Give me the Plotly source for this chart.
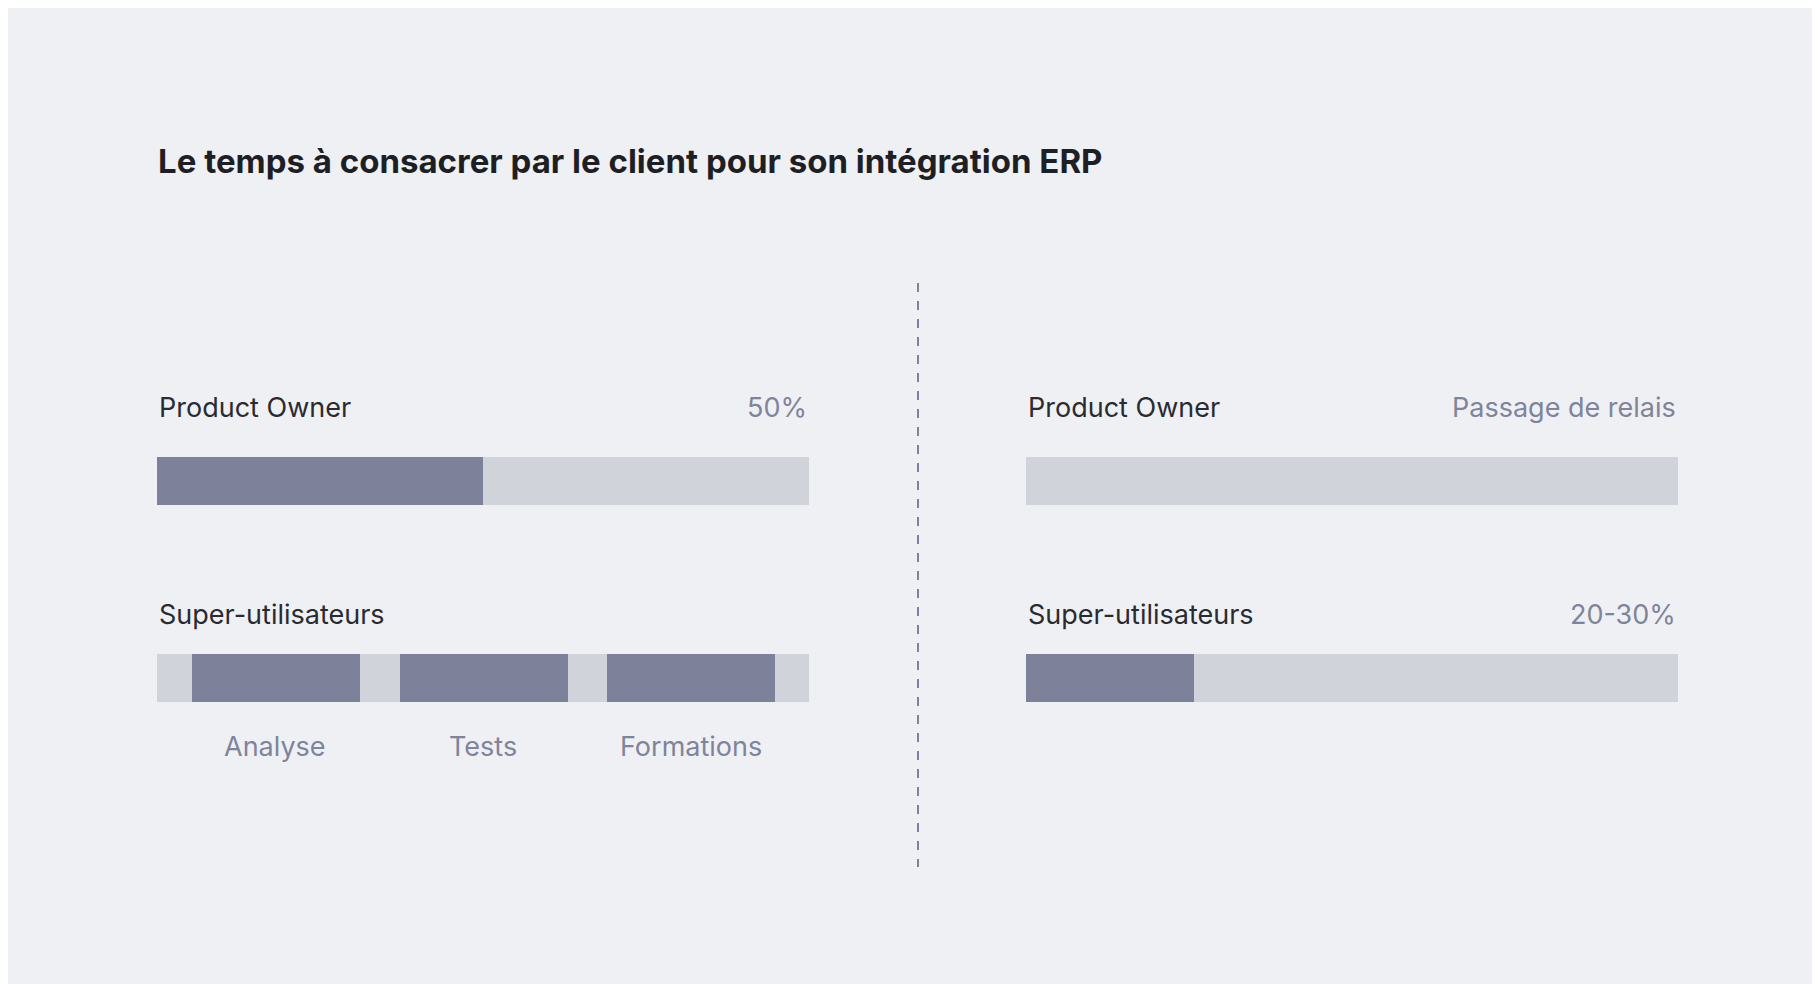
import plotly.graph_objects as go

# data
title = "Le temps à consacrer par le client pour son intégration ERP"
left_po_share = 50
left_su_segments = [(5.3, 31.1), (37.2, 63.0), (69.0, 94.8)]
left_su_labels = ["Analyse", "Tests", "Formations"]
right_po_share = 0
right_su_share = 25.8
right_po_note = "Passage de relais"
right_su_note = "20-30%"
roles = ["Product Owner", "Super-utilisateurs"]

DARK = "#7d8199"
LIGHT = "#d0d3da"
BG = "#eff0f4"
W, H = 1820, 984
PO_Y, SU_Y, BAR_W = 473, 670, 48
FONT = "Inter"

fig = go.Figure()


def bar(xaxis, start, length, y, color):
    fig.add_trace(go.Bar(
        x=[length], base=[start], y=[y], width=[BAR_W], orientation="h",
        marker=dict(color=color, line=dict(width=0)),
        xaxis=xaxis, yaxis="y", hoverinfo="skip", showlegend=False,
    ))


for ax in ["x", "x2"]:
    bar(ax, 0, 100, PO_Y, LIGHT)
    bar(ax, 0, 100, SU_Y, LIGHT)

bar("x", 0, left_po_share, PO_Y, DARK)
for s, e in left_su_segments:
    bar("x", s, e - s, SU_Y, DARK)
if right_po_share:
    bar("x2", 0, right_po_share, PO_Y, DARK)
bar("x2", 0, right_su_share, SU_Y, DARK)

ann = []


def label(xref, x, y, text, anchor, color, size=27):
    ann.append(dict(xref=xref, yref="y", x=x, y=y, text=text, showarrow=False,
                    xanchor=anchor, yanchor="middle",
                    font=dict(family=FONT, size=size, color=color)))


for xref in ["x", "x2"]:
    label(xref, 0, 399, roles[0], "left", "#2a2b30")
    label(xref, 0, 606, roles[1], "left", "#2a2b30")
label("x", 100, 399, f"{left_po_share}%", "right", "#80849a")
label("x2", 100, 399, right_po_note, "right", "#80849a")
label("x2", 100, 606, right_su_note, "right", "#80849a")
for (s, e), t in zip(left_su_segments, left_su_labels):
    label("x", (s + e) / 2, 738, t, "center", "#80849a")

ann.append(dict(xref="paper", yref="y", x=148 / W, y=153, text=f"<b>{title}</b>",
                showarrow=False, xanchor="left", yanchor="middle",
                font=dict(family=FONT, size=33, color="#1e1f24")))

fig.update_layout(
    width=W, height=H, margin=dict(l=0, r=0, t=0, b=0),
    paper_bgcolor=BG, plot_bgcolor=BG, barmode="overlay", bargap=0,
    xaxis=dict(domain=[148.6 / W, 801 / W], range=[0, 100], visible=False, fixedrange=True),
    xaxis2=dict(domain=[1018 / W, 1670 / W], range=[0, 100], visible=False, fixedrange=True),
    yaxis=dict(domain=[0, 1], range=[H, 0], visible=False, fixedrange=True),
    annotations=ann,
    shapes=[dict(type="line", xref="paper", yref="y", x0=910 / W, x1=910 / W, y0=275, y1=859,
                 line=dict(color="#7d8199", width=2, dash="dash"))],
)

fig.write_html("out.html")
